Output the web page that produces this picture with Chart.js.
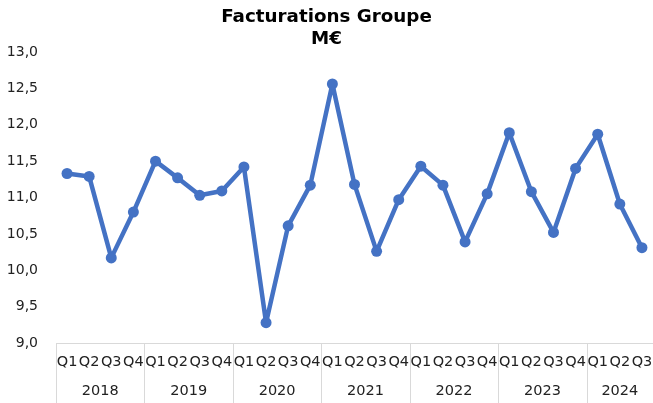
<!DOCTYPE html>
<html>
<head>
<meta charset="utf-8">
<script src="https://cdn.jsdelivr.net/npm/chart.js@4/dist/chart.umd.min.js"></script>
<style>
html,body{margin:0;padding:0;background:#fff;}
#wrap{width:653px;height:403px;}
</style>
</head>
<body>
<div id="wrap"><canvas id="c" width="653" height="403"></canvas></div>
<script>
const quarters = ['Q1','Q2','Q3','Q4','Q1','Q2','Q3','Q4','Q1','Q2','Q3','Q4','Q1','Q2','Q3','Q4','Q1','Q2','Q3','Q4','Q1','Q2','Q3','Q4','Q1','Q2','Q3'];
const years = ['2018','2019','2020','2021','2022','2023','2024'];
const quartersPerYear = [4,4,4,4,4,4,3];
const values = [11.33,11.29,10.17,10.80,11.50,11.27,11.03,11.09,11.42,9.28,10.61,11.17,12.56,11.18,10.26,10.97,11.43,11.17,10.39,11.05,11.89,11.08,10.52,11.40,11.87,10.91,10.31];
const yTicks = [9,9.5,10,10.5,11,11.5,12,12.5,13];

const FONT = "'DejaVu Sans', Verdana, sans-serif";
const TEXT = '#222222';
const SEP = '#d9d9d9';

const yearPlugin = {
  id: 'yearGroups',
  afterDraw(chart) {
    const x = chart.scales.x;
    const ctx = chart.ctx;
    const area = chart.chartArea;
    const half = (x.getPixelForValue(1) - x.getPixelForValue(0)) / 2;
    ctx.save();
    ctx.strokeStyle = SEP;
    ctx.lineWidth = 1;
    ctx.fillStyle = TEXT;
    ctx.font = '14.5px ' + FONT;
    ctx.textAlign = 'center';
    ctx.textBaseline = 'middle';
    let start = 0;
    years.forEach((yr, i) => {
      const n = quartersPerYear[i];
      const left = x.getPixelForValue(start) - half;
      const right = x.getPixelForValue(start + n - 1) + half;
      const lx = Math.round(left) + 0.5;
      ctx.beginPath();
      ctx.moveTo(lx, area.bottom);
      ctx.lineTo(lx, chart.height);
      ctx.stroke();
      ctx.fillText(yr, (left + right) / 2, 391);
      start += n;
    });
    ctx.restore();
  }
};

new Chart(document.getElementById('c'), {
  type: 'line',
  data: {
    labels: quarters,
    datasets: [{
      data: values,
      borderColor: '#4472C4',
      backgroundColor: '#4472C4',
      borderWidth: 4.5,
      borderJoinStyle: 'round',
      borderCapStyle: 'round',
      pointRadius: 5.5,
      pointBackgroundColor: '#4472C4',
      pointBorderWidth: 0,
      tension: 0,
      clip: false
    }]
  },
  options: {
    responsive: false,
    animation: false,
    devicePixelRatio: 1,
    layout: { autoPadding: false, padding: { left: 0, right: 0, top: 0, bottom: 0 } },
    plugins: {
      legend: { display: false },
      tooltip: { enabled: false },
      title: {
        display: true,
        text: ['Facturations Groupe', 'M€'],
        color: '#000',
        font: { family: FONT, size: 18.3, weight: 'bold', lineHeight: '22px' },
        padding: { top: 6, bottom: 2 }
      }
    },
    scales: {
      x: {
        offset: true,
        grid: { display: false, drawTicks: false },
        border: { display: true, color: SEP, width: 1 },
        ticks: {
          autoSkip: false, maxRotation: 0, minRotation: 0,
          color: TEXT, padding: 11,
          font: { family: FONT, size: 14.5 }
        },
        afterFit(s) { s.height = 60; s.paddingLeft = 0; s.paddingRight = 0; }
      },
      y: {
        min: 9, max: 13,
        grid: { display: false, drawTicks: false },
        border: { display: false },
        afterBuildTicks(s) { s.ticks = yTicks.map(v => ({ value: v })); },
        ticks: {
          color: TEXT, padding: 18,
          font: { family: FONT, size: 14 },
          callback: v => Number(v).toFixed(1).replace('.', ',')
        },
        afterFit(s) { s.width = 56; }
      }
    }
  },
  plugins: [yearPlugin]
});
</script>
</body>
</html>
